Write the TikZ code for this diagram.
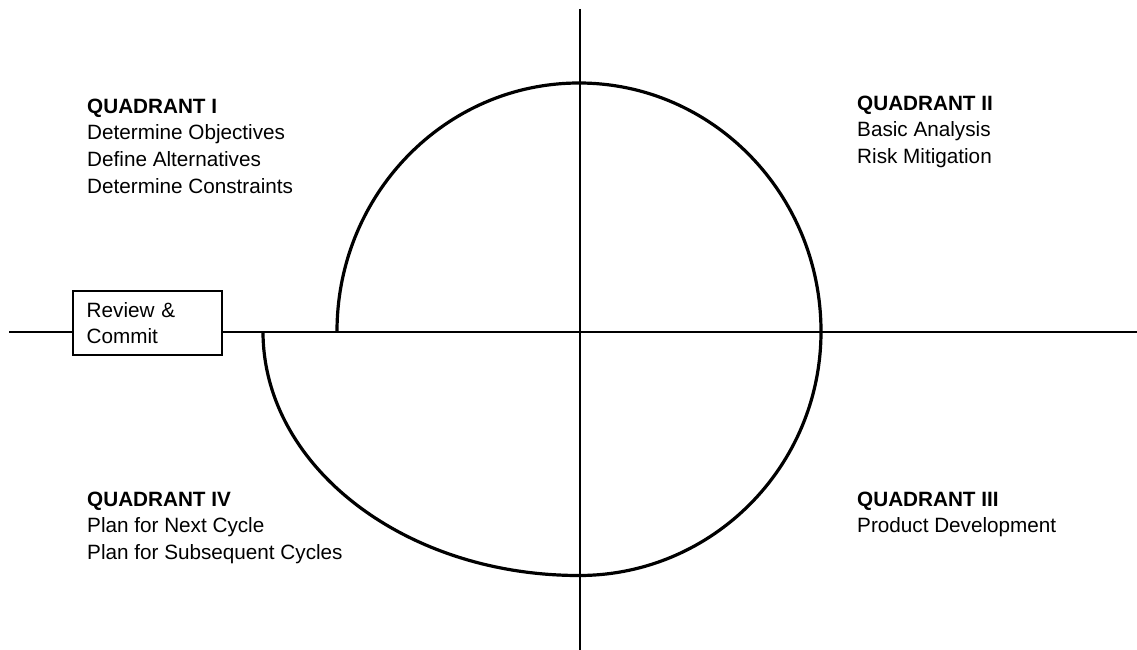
\documentclass[tikz,border=0pt]{standalone}
\usepackage{fontspec}
\setmainfont{Liberation Sans}
\begin{document}
\begin{tikzpicture}[x=1pt,y=1pt,
  axis/.style={line width=2pt, black},
  spiral/.style={line width=3.2pt, black},
  boxnode/.style={draw, line width=2.2pt, fill=white, minimum width=149pt, minimum height=64pt,
    text width=121pt, inner xsep=14pt, inner ysep=0pt, align=left,
    font={\fontsize{20.7}{26}\selectfont}},
  label/.style={anchor=base west, inner sep=0pt, align=left,
    font={\fontsize{20.7}{26.8}\selectfont}}]
\useasboundingbox (0,0) rectangle (1137,-650);
% axes
\coordinate (L) at (9,-331.5);
\coordinate (R) at (1137,-331.5);
\coordinate (T) at (579.5,-9);
\coordinate (B) at (579.5,-650);
\draw[axis] (L) -- (R);
\draw[axis] (T) -- (B);
% spiral
\coordinate (S) at (337,-331.5);
\draw[spiral] (S) arc[start angle=180, end angle=0, x radius=242pt, y radius=248.5pt]
  arc[start angle=0, end angle=-90, x radius=242pt, y radius=244pt]
  arc[start angle=-90, end angle=-180, x radius=316pt, y radius=244pt];
% review box
\node[boxnode] (rc) at (147.2,-323) {Review \&\\Commit};
% quadrant labels (anchor = baseline of the last line)
\node[label] (q1) at (87,-193.4) {\textbf{QUADRANT I}\\Determine Objectives\\Define Alternatives\\Determine Constraints};
\node[label] (q2) at (857,-163.6) {\textbf{QUADRANT II}\\Basic Analysis\\Risk Mitigation};
\node[label] (q4) at (87,-559.6) {\textbf{QUADRANT IV}\\Plan for Next Cycle\\Plan for Subsequent Cycles};
\node[label] (q3) at (857,-532.8) {\textbf{QUADRANT III}\\Product Development};
\end{tikzpicture}
\end{document}
